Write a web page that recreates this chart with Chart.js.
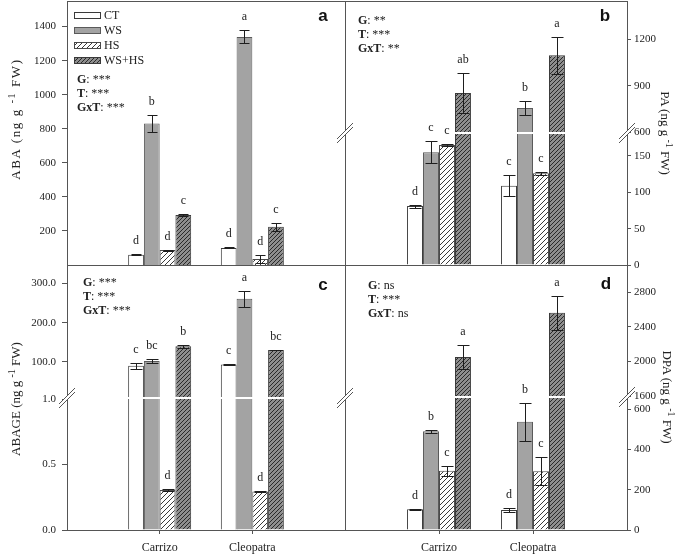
<!DOCTYPE html>
<html>
<head>
<meta charset="utf-8">
<title>ABA, PA, ABAGE and DPA in Carrizo and Cleopatra</title>
<script src="https://cdn.jsdelivr.net/npm/chart.js@4.4.1/dist/chart.umd.min.js"></script>
<style>
  body { margin: 0; background: #fff; }
  #fig { position: relative; width: 685px; height: 556px; overflow: hidden; font-family: "Liberation Serif", "Times New Roman", serif; color: #222; }
  #fig canvas { position: absolute; left: 0; top: 0; }
  .stat { position: absolute; z-index: 2; white-space: nowrap; font-size: 12px; line-height: 14px; }
  .ytitle { position: absolute; z-index: 2; white-space: nowrap; font-size: 13px; transform: translate(-50%, -50%) rotate(-90deg); }
  .ytitle.right { transform: translate(-50%, -50%) rotate(90deg); }
  .ytitle sup { font-size: 10px; }
</style>
</head>
<body>
<div id="fig">
  <div class="ytitle" style="left:15px;top:119px;letter-spacing:1.6px">ABA (ng g <sup>-1</sup> FW)</div>
  <div class="ytitle" style="left:15px;top:399px">ABAGE (ng g <sup>-1</sup> FW)</div>
  <div class="ytitle right" style="left:666px;top:133px">PA (ng g <sup>-1</sup> FW)</div>
  <div class="ytitle right" style="left:668px;top:397px">DPA (ng g <sup>-1</sup> FW)</div>
  <div class="stat" style="left:77px;top:72px"><b>G</b>: ***<br><b>T</b>: ***<br><b>GxT</b>: ***</div>
  <div class="stat" style="left:358px;top:13px"><b>G</b>: **<br><b>T</b>: ***<br><b>GxT</b>: **</div>
  <div class="stat" style="left:83px;top:275px"><b>G</b>: ***<br><b>T</b>: ***<br><b>GxT</b>: ***</div>
  <div class="stat" style="left:368px;top:278px"><b>G</b>: ns<br><b>T</b>: ***<br><b>GxT</b>: ns</div>
</div>
<script>
const GENOTYPES = ['Carrizo', 'Cleopatra'];
const TREATMENTS = ['CT', 'WS', 'HS', 'WS+HS'];

// rows follow TREATMENTS, columns follow GENOTYPES
const ABA_MEAN = [[60, 100], [831, 1339], [88, 35], [293, 224]];
const ABA_SE = [[4, 3], [48, 38], [3, 22], [7, 24]];
const ABA_LETTERS = [['d', 'd'], ['b', 'a'], ['d', 'd'], ['c', 'c']];
const ABA_TICKS = [200, 400, 600, 800, 1000, 1200, 1400];

const PA_MEAN = [[81, 109], [155, 756], [165, 126], [853, 1098]];
const PA_SE = [[2, 14], [15, 43], [1.5, 2], [128, 119]];
const PA_LETTERS = [['d', 'c'], ['c', 'b'], ['c', 'c'], ['ab', 'a']];
const PA_TICKS_LOW = [0, 50, 100, 150];
const PA_TICKS_HIGH = [600, 900, 1200];

const ABAGE_MEAN = [[90, 93], [102, 261], [0.306, 0.293], [140, 130]];
const ABAGE_SE = [[8, 1], [6, 20], [0.01, 0.003], [4, 1]];
const ABAGE_LETTERS = [['c', 'c'], ['bc', 'a'], ['d', 'd'], ['b', 'bc']];
const ABAGE_TICKS_LOW = [0, 0.5, 1];
const ABAGE_TICKS_HIGH = [100, 200, 300];

const DPA_MEAN = [[103, 99], [490, 537], [294, 292], [2050, 2560]];
const DPA_SE = [[3, 11], [8, 93], [25, 71], [135, 195]];
const DPA_LETTERS = [['d', 'd'], ['b', 'b'], ['c', 'c'], ['a', 'a']];
const DPA_TICKS_LOW = [0, 200, 400, 600];
const DPA_TICKS_HIGH = [1600, 2000, 2400, 2800];

const SERIF = '"Liberation Serif", "Times New Roman", serif';
const INK = '#222';
const LINE = '#555';
const AXIS_W = 40;   // room kept for y tick labels
const AXIS_H = 24;   // room kept for category labels

// diagonal hatch fill used for the heat stress bars
function hatch(bg, ink, step) {
    const c = document.createElement('canvas');
    c.width = c.height = step;
    const g = c.getContext('2d');
    g.fillStyle = bg;
    g.fillRect(0, 0, step, step);
    g.strokeStyle = ink;
    g.lineWidth = 1;
    g.beginPath();
    g.moveTo(0, step); g.lineTo(step, 0);
    g.moveTo(-1, 1); g.lineTo(1, -1);
    g.moveTo(step - 1, step + 1); g.lineTo(step + 1, step - 1);
    g.stroke();
    return g.createPattern(c, 'repeat');
}

const FILLS = ['#ffffff', '#a3a3a3', hatch('#ffffff', '#3a3a3a', 5), hatch('#8e8e8e', '#2a2a2a', 4)];
const EDGES = ['#3a3a3a', '#5a5a5a', '#4a4a4a', '#3a3a3a'];

// plot rectangles of the four panels (page pixels)
const FRAMES = [[67, 1, 345, 265], [345, 1, 627, 265], [67, 265, 345, 530], [345, 265, 627, 530]];
// where the axes are broken
const BREAKS = [[345, 133], [627, 133], [67, 398], [345, 398], [627, 397]];
const TAGS = [['a', 323, 21], ['b', 605, 21], ['c', 323, 290], ['d', 606, 289]];

const fig = document.getElementById('fig');

// error bars + significance letters, clipped to each sub-plot
function barNotes(p) {
    return {
        id: 'barNotes',
        afterDatasetsDraw(chart) {
            const { ctx, chartArea: area } = chart;
            const y = chart.scales.y;
            ctx.save();
            ctx.beginPath();
            ctx.rect(area.left, area.top, area.right - area.left, area.bottom - area.top);
            ctx.clip();
            ctx.strokeStyle = '#1e1e1e';
            ctx.lineWidth = 1;
            chart.data.datasets.forEach((ds, i) => {
                chart.getDatasetMeta(i).data.forEach((bar, k) => {
                    const g = k - 1;
                    if (g < 0 || g >= GENOTYPES.length) return;
                    const m = p.mean[i][g], e = p.se[i][g];
                    const x = Math.round(bar.x) + 0.5;
                    const hi = Math.round(y.getPixelForValue(m + e)) + 0.5;
                    const lo = Math.round(y.getPixelForValue(m - e)) + 0.5;
                    ctx.beginPath();
                    ctx.moveTo(x, hi); ctx.lineTo(x, lo);
                    ctx.moveTo(x - p.cap, hi); ctx.lineTo(x + p.cap, hi);
                    ctx.moveTo(x - p.cap, lo); ctx.lineTo(x + p.cap, lo);
                    ctx.stroke();
                });
            });
            ctx.restore();

            ctx.save();
            ctx.font = '12px ' + SERIF;
            ctx.fillStyle = INK;
            ctx.textAlign = 'center';
            chart.data.datasets.forEach((ds, i) => {
                chart.getDatasetMeta(i).data.forEach((bar, k) => {
                    const g = k - 1;
                    if (g < 0 || g >= GENOTYPES.length) return;
                    const top = p.mean[i][g] + p.se[i][g];
                    if (top < y.min || top > y.max) return;
                    ctx.fillText(p.letters[i][g], bar.x, y.getPixelForValue(top) - 10);
                });
            });
            ctx.restore();
        }
    };
}

const boxLegend = {
    id: 'boxLegend',
    afterDraw(chart) {
        const ctx = chart.ctx;
        ctx.save();
        ctx.font = '12px ' + SERIF;
        ctx.textBaseline = 'middle';
        chart.data.datasets.forEach((ds, i) => {
            const y = 12 + i * 15;
            ctx.fillStyle = ds.backgroundColor;
            ctx.fillRect(74, y, 26, 7);
            ctx.strokeStyle = ds.borderColor;
            ctx.lineWidth = 1;
            ctx.strokeRect(74.5, y + 0.5, 26, 6);
            ctx.fillStyle = INK;
            ctx.fillText(ds.label, 104, y + 4);
        });
        ctx.restore();
    }
};

function breakMark(ctx, x, y) {
    ctx.fillStyle = '#fff';
    ctx.beginPath();
    ctx.moveTo(x - 8, y + 6); ctx.lineTo(x + 8, y - 10);
    ctx.lineTo(x + 8, y - 6); ctx.lineTo(x - 8, y + 10);
    ctx.closePath();
    ctx.fill();
    ctx.beginPath();
    ctx.moveTo(x - 8, y + 6); ctx.lineTo(x + 8, y - 10);
    ctx.moveTo(x - 8, y + 10); ctx.lineTo(x + 8, y - 6);
    ctx.stroke();
}

const framesAndTags = {
    id: 'framesAndTags',
    afterDraw(chart) {
        const ctx = chart.ctx;
        ctx.save();
        ctx.strokeStyle = LINE;
        ctx.lineWidth = 1;
        FRAMES.forEach(([l, t, r, b]) => ctx.strokeRect(l + 0.5, t + 0.5, r - l, b - t));
        BREAKS.forEach(([x, y]) => breakMark(ctx, x, y));
        ctx.font = 'bold 17px "Liberation Sans", Arial, sans-serif';
        ctx.fillStyle = '#111';
        ctx.textAlign = 'center';
        TAGS.forEach(([t, x, y]) => ctx.fillText(t, x, y));
        ctx.restore();
    }
};

function makePanel(p, extra) {
    const cv = document.createElement('canvas');
    cv.width = 685;
    cv.height = 556;
    fig.appendChild(cv);
    const [left, top, right, bottom] = p.box;
    const fmt = p.fmt || (v => String(v));
    const xH = p.xLabels ? AXIS_H : 0;
    const pad = {
        left: p.side === 'left' ? left - AXIS_W : left,
        right: p.side === 'right' ? 685 - right - AXIS_W : 685 - right,
        top: top,
        bottom: 556 - bottom - xH
    };
    return new Chart(cv, {
        type: 'bar',
        data: {
            labels: ['', ...GENOTYPES, ''],
            datasets: TREATMENTS.map((name, i) => ({
                label: name,
                data: [null, ...p.mean[i], null],
                backgroundColor: FILLS[i],
                borderColor: EDGES[i],
                borderWidth: 1,
                categoryPercentage: 0.68,
                barPercentage: 1,
                clip: 0
            }))
        },
        options: {
            responsive: false,
            animation: false,
            devicePixelRatio: 1,
            layout: { padding: pad },
            plugins: { legend: { display: false }, tooltip: { enabled: false } },
            scales: {
                x: {
                    display: !!p.xLabels,
                    offset: false,
                    grid: { offset: false, drawOnChartArea: false, tickLength: 4, color: LINE },
                    border: { display: false },
                    ticks: { font: { family: SERIF, size: 12 }, color: INK, padding: 7, autoSkip: false, maxRotation: 0 },
                    afterBuildTicks: s => { s.ticks = s.ticks.filter(t => t.value >= 1 && t.value <= GENOTYPES.length); },
                    afterFit: s => { s.height = xH; s.paddingLeft = 0; s.paddingRight = 0; }
                },
                y: {
                    position: p.side,
                    min: p.min,
                    max: p.max,
                    grid: { drawOnChartArea: false, tickLength: p.side === 'left' ? 5 : 4, color: LINE },
                    border: { display: false },
                    ticks: {
                        font: { family: SERIF, size: 11 },
                        color: INK,
                        padding: p.side === 'left' ? 6 : 3,
                        autoSkip: false,
                        callback: v => fmt(v)
                    },
                    afterBuildTicks: s => { s.ticks = p.ticks.map(v => ({ value: v })); },
                    afterFit: s => { s.width = AXIS_W; s.paddingTop = 0; s.paddingBottom = 0; }
                }
            }
        },
        plugins: [barNotes(p), ...(extra || [])]
    });
}

const oneDecimal = v => v.toFixed(1);

// panel a: ABA
makePanel({ box: [67, 1, 345, 265], min: 0, max: 1550, ticks: ABA_TICKS, side: 'left', cap: 5,
    mean: ABA_MEAN, se: ABA_SE, letters: ABA_LETTERS }, [boxLegend]);
// panel b: PA, broken axis
makePanel({ box: [345, 1, 627, 132], min: 600, max: 1450, ticks: PA_TICKS_HIGH, side: 'right', cap: 6,
    mean: PA_MEAN, se: PA_SE, letters: PA_LETTERS });
makePanel({ box: [345, 134, 627, 265], min: 0, max: 180, ticks: PA_TICKS_LOW, side: 'right', cap: 6,
    mean: PA_MEAN, se: PA_SE, letters: PA_LETTERS });
// panel c: ABAGE, broken axis
makePanel({ box: [67, 266, 345, 397], min: 10, max: 345, ticks: ABAGE_TICKS_HIGH, side: 'left', cap: 6, fmt: oneDecimal,
    mean: ABAGE_MEAN, se: ABAGE_SE, letters: ABAGE_LETTERS });
makePanel({ box: [67, 399, 345, 530], min: 0, max: 1, ticks: ABAGE_TICKS_LOW, side: 'left', cap: 6, fmt: oneDecimal, xLabels: true,
    mean: ABAGE_MEAN, se: ABAGE_SE, letters: ABAGE_LETTERS });
// panel d: DPA, broken axis
makePanel({ box: [345, 266, 627, 396], min: 1600, max: 3100, ticks: DPA_TICKS_HIGH, side: 'right', cap: 6,
    mean: DPA_MEAN, se: DPA_SE, letters: DPA_LETTERS });
makePanel({ box: [345, 398, 627, 530], min: 0, max: 655, ticks: DPA_TICKS_LOW, side: 'right', cap: 6, xLabels: true,
    mean: DPA_MEAN, se: DPA_SE, letters: DPA_LETTERS }, [framesAndTags]);
</script>
</body>
</html>
